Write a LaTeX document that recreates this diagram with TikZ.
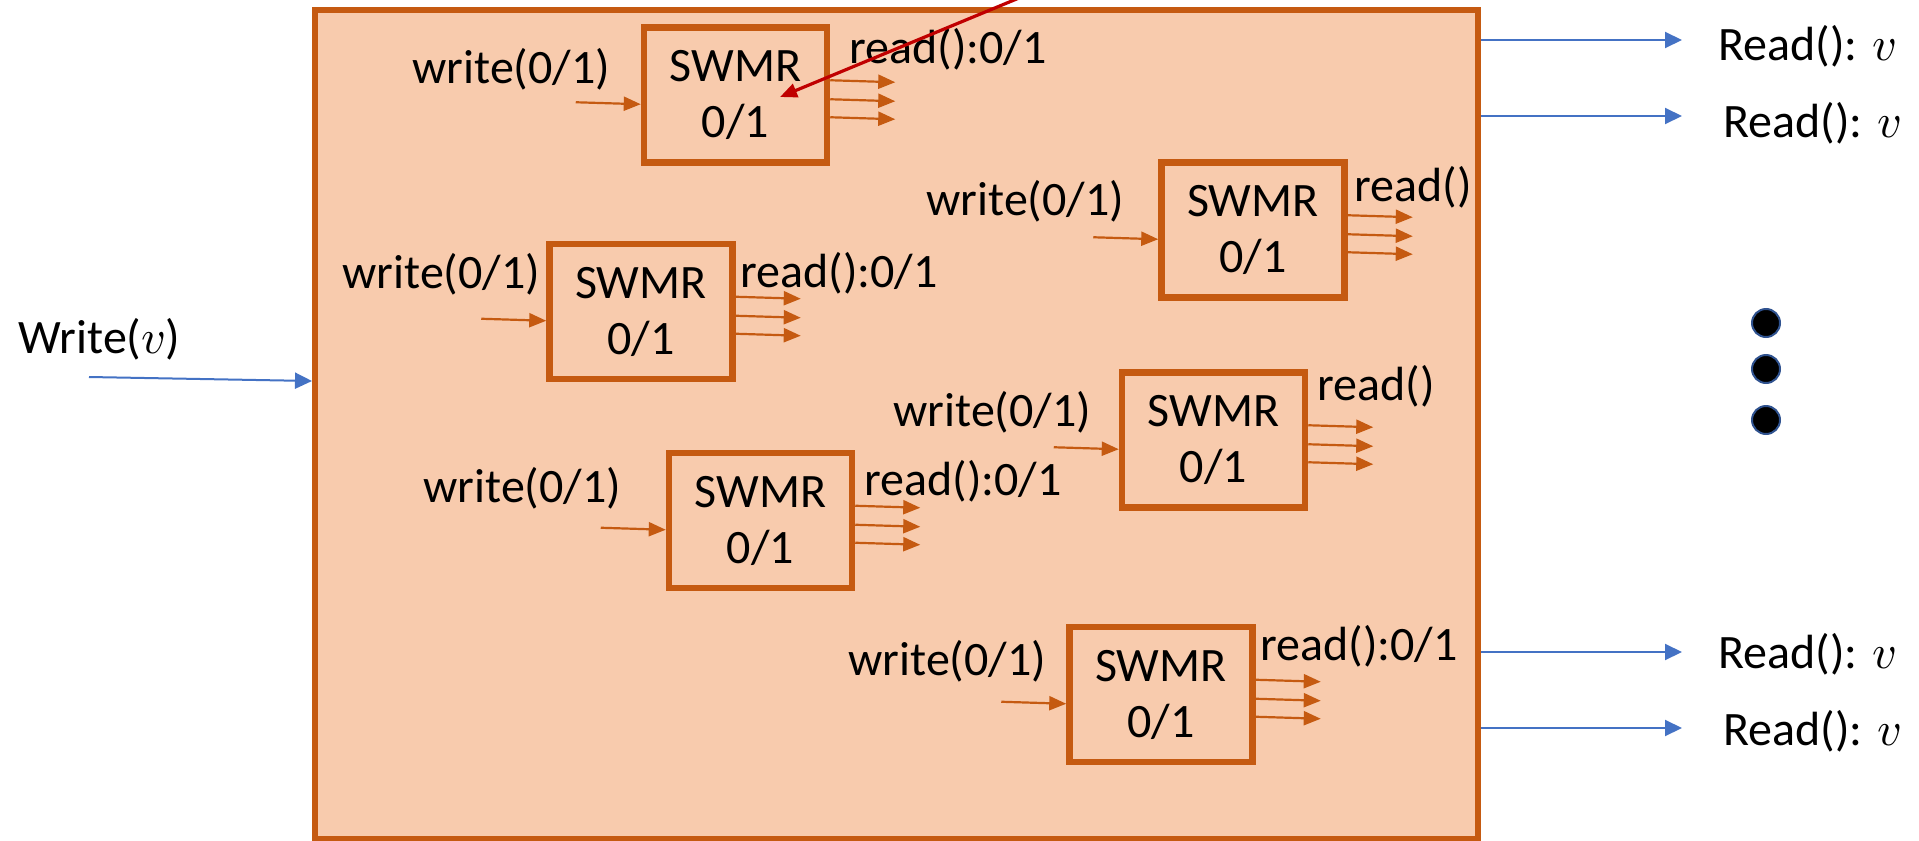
\documentclass[tikz,border=0pt]{standalone}
\usepackage{xcolor}
\definecolor{regfill}{RGB}{248,203,173}
\definecolor{regline}{RGB}{197,90,17}
\definecolor{linkblue}{RGB}{68,114,196}
\definecolor{darkred}{RGB}{192,0,0}
\definecolor{dotline}{RGB}{47,82,143}
\usepackage{fontspec}
\setmainfont{Carlito}
\usepackage{unicode-math}
\setmathfont{Latin Modern Math}
\usepackage{tikz}
\usetikzlibrary{arrows.meta,positioning,calc}

\begin{document}
\begin{tikzpicture}[x=0.5pt,y=-0.5pt,
    swmr/.style={rectangle, draw=regline, fill=regfill, line width=3.25pt,
                 minimum width=91.5pt, minimum height=67.5pt, inner sep=0pt,
                 align=center, font=\fontsize{24}{28}\selectfont},
    lbl/.style={anchor=base west, inner sep=0pt, font=\fontsize{24}{28}\selectfont},
    oarr/.style={-{Triangle[length=8.5pt,width=7pt]}, regline, line width=1.1pt},
    barr/.style={-{Triangle[length=8.5pt,width=8pt]}, linkblue, line width=1pt},
    rarr/.style={-{Triangle[length=8.5pt,width=7pt]}, darkred, line width=1.6pt},
    moredot/.style={circle, fill=black, draw=dotline, line width=1pt,
                    minimum size=14pt, inner sep=0pt},
  ]
  \useasboundingbox (0,0) rectangle (1919,841);

  % register built from SWMR cells
  \node[rectangle, draw=regline, fill=regfill, line width=3pt,
        minimum width=581.5pt, minimum height=414.5pt] (mem) at (896.5,424.5) {};

  \node[swmr] (b1) at (735.5,95)   {SWMR\\0/1};
  \node[swmr] (b2) at (1253,230)   {SWMR\\0/1};
  \node[swmr] (b3) at (641,311.5)  {SWMR\\0/1};
  \node[swmr] (b4) at (1213.5,440) {SWMR\\0/1};
  \node[swmr] (b5) at (760.5,520.5){SWMR\\0/1};
  \node[swmr] (b6) at (1161,694.5) {SWMR\\0/1};

  \node[lbl] (w1) at (412,83)  {write(0/1)};
  \node[lbl] (w2) at (926,215) {write(0/1)};
  \node[lbl] (w3) at (342,288) {write(0/1)};
  \node[lbl] (w4) at (893,426) {write(0/1)};
  \node[lbl] (w5) at (423,502) {write(0/1)};
  \node[lbl] (w6) at (848,675) {write(0/1)};

  \node[lbl] (r1) at (849,63)   {read():0/1};
  \node[lbl] (r2) at (1354,201) {read()};
  \node[lbl] (r3) at (740,287)  {read():0/1};
  \node[lbl] (r4) at (1317,400) {read()};
  \node[lbl] (r5) at (864,495)  {read():0/1};
  \node[lbl] (r6) at (1260,660) {read():0/1};

  % one write port in, three read ports out
  \foreach \b in {b1,b2,b3,b4,b5,b6} {
    \draw[oarr] ($(\b.north west)+(-65,78)$) -- ($(\b.north west)+(0,80)$);
    \foreach \dy in {56,75,93}
      \draw[oarr] ($(\b.north east)+(0,\dy)$) -- ($(\b.north east)+(65,\dy+2)$);
  }

  % outer interface
  \node[lbl] (win) at (18,353) {Write($\mathscr{v}$)};
  \coordinate (wsrc) at (89,377);
  \draw[barr] (wsrc) -- ($(mem.west)+(0,-43.5)$);

  \coordinate (t1) at (1682,40);
  \coordinate (t2) at (1682,116);
  \coordinate (t3) at (1682,652);
  \coordinate (t4) at (1682,728);
  \foreach \t in {t1,t2,t3,t4}
    \draw[barr] (\t -| mem.east) -- (\t);

  \node[lbl] (o1) at (1718,60)  {Read(): $\mathscr{v}$};
  \node[lbl] (o2) at (1723,137) {Read(): $\mathscr{v}$};
  \node[lbl] (o3) at (1718,668) {Read(): $\mathscr{v}$};
  \node[lbl] (o4) at (1723,745) {Read(): $\mathscr{v}$};

  \node[moredot] (d1) at (1766,323) {};
  \node[moredot] (d2) at (1766,369) {};
  \node[moredot] (d3) at (1766,420) {};

  \coordinate (rsrc) at (1060,-19);
  \draw[rarr] (rsrc) -- ($(b1.center)+(44.5,2)$);
\end{tikzpicture}
\end{document}
